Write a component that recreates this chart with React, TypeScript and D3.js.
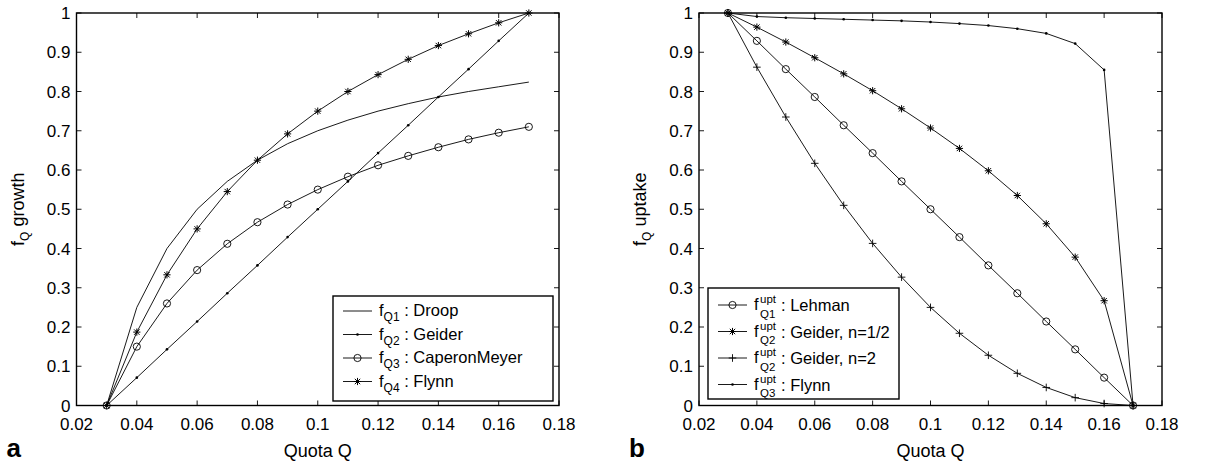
import React from "react";
import * as d3 from "d3";

const Q = [0.03, 0.04, 0.05, 0.06, 0.07, 0.08, 0.09, 0.1, 0.11, 0.12, 0.13, 0.14, 0.15, 0.16, 0.17];

// panel a: growth
const droop = [0, 0.25, 0.4, 0.5, 0.571, 0.625, 0.667, 0.7, 0.727, 0.75, 0.769, 0.786, 0.8, 0.812, 0.824];
const geiderGrowth = [0, 0.071, 0.143, 0.214, 0.286, 0.357, 0.429, 0.5, 0.571, 0.643, 0.714, 0.786, 0.857, 0.929, 1];
const caperonMeyer = [0, 0.15, 0.26, 0.345, 0.412, 0.467, 0.512, 0.55, 0.583, 0.612, 0.636, 0.658, 0.678, 0.695, 0.71];
const flynnGrowth = [0, 0.187, 0.333, 0.45, 0.545, 0.625, 0.692, 0.75, 0.8, 0.843, 0.882, 0.917, 0.947, 0.975, 1];

// panel b: uptake
const lehman = [1, 0.929, 0.857, 0.786, 0.714, 0.643, 0.571, 0.5, 0.429, 0.357, 0.286, 0.214, 0.143, 0.071, 0];
const geiderHalf = [1, 0.964, 0.926, 0.886, 0.845, 0.802, 0.756, 0.707, 0.655, 0.598, 0.535, 0.463, 0.378, 0.267, 0];
const geiderTwo = [1, 0.862, 0.735, 0.617, 0.51, 0.413, 0.327, 0.25, 0.184, 0.128, 0.082, 0.046, 0.02, 0.005, 0];
const flynnUptake = [1, 0.991, 0.988, 0.986, 0.984, 0.982, 0.98, 0.977, 0.973, 0.968, 0.96, 0.948, 0.922, 0.855, 0];

const xTicks = [0.02, 0.04, 0.06, 0.08, 0.1, 0.12, 0.14, 0.16, 0.18];
const yTicks = [0, 0.1, 0.2, 0.3, 0.4, 0.5, 0.6, 0.7, 0.8, 0.9, 1];

const FONT = "'Liberation Sans', Arial, Helvetica, sans-serif";

type Marker = "none" | "dot" | "circle" | "star" | "plus";

function MarkerShape({ type, x, y }: { type: Marker; x: number; y: number }) {
  if (type === "dot") return <circle cx={x} cy={y} r={1.3} fill="#000" />;
  if (type === "circle") return <circle cx={x} cy={y} r={3.6} fill="none" stroke="#000" strokeWidth={0.9} />;
  if (type === "plus") {
    const s = 3.8;
    return (
      <g stroke="#000" strokeWidth={0.9}>
        <line x1={x - s} y1={y} x2={x + s} y2={y} />
        <line x1={x} y1={y - s} x2={x} y2={y + s} />
      </g>
    );
  }
  if (type === "star") {
    const s = 3.6;
    const d = s * 0.75;
    return (
      <g stroke="#000" strokeWidth={1}>
        <line x1={x - s} y1={y} x2={x + s} y2={y} />
        <line x1={x} y1={y - s} x2={x} y2={y + s} />
        <line x1={x - d} y1={y - d} x2={x + d} y2={y + d} />
        <line x1={x - d} y1={y + d} x2={x + d} y2={y - d} />
      </g>
    );
  }
  return null;
}

type Series = { values: number[]; marker: Marker };
type LegendItem = { marker: Marker; sub: string; label: string };
type LegendBox = { x: number; y: number; w: number; h: number; rows: number[] };

const TICK_FS = 17;
const LABEL_FS = 18;
const LEG_FS = 16.5;
const SUB_FS = 11.5;

function Panel({
  x0, x1, y0, y1, series, yLabel, letter, legend, legendBox, supLegend,
}: {
  x0: number; x1: number; y0: number; y1: number; series: Series[]; yLabel: string; letter: string;
  legend: LegendItem[]; legendBox: LegendBox; supLegend: boolean;
}) {
  const x = d3.scaleLinear().domain([0.02, 0.18]).range([x0, x1]);
  const y = d3.scaleLinear().domain([0, 1]).range([y1, y0]);
  const line = d3.line<number>().x((_, i) => x(Q[i])).y((v) => y(v));
  const tl = 5;
  const cx = (x0 + x1) / 2;
  const cy = (y0 + y1) / 2;
  return (
    <g fontFamily={FONT}>
      {series.map((s, si) => (
        <g key={si}>
          <path d={line(s.values) || ""} fill="none" stroke="#000" strokeWidth={0.9} />
          {s.marker !== "none" && s.values.map((v, i) => <MarkerShape key={i} type={s.marker} x={x(Q[i])} y={y(v)} />)}
        </g>
      ))}
      {xTicks.map((t) => (
        <g key={"x" + t}>
          <line x1={x(t)} x2={x(t)} y1={y1} y2={y1 - tl} stroke="#000" strokeWidth={0.9} />
          <line x1={x(t)} x2={x(t)} y1={y0} y2={y0 + tl} stroke="#000" strokeWidth={0.9} />
          <text x={x(t)} y={y1 + 24} textAnchor="middle" fontSize={TICK_FS}>{String(t)}</text>
        </g>
      ))}
      {yTicks.map((t) => (
        <g key={"y" + t}>
          <line x1={x0} x2={x0 + tl} y1={y(t)} y2={y(t)} stroke="#000" strokeWidth={0.9} />
          <line x1={x1} x2={x1 - tl} y1={y(t)} y2={y(t)} stroke="#000" strokeWidth={0.9} />
          <text x={x0 - 6} y={y(t) + 6} textAnchor="end" fontSize={TICK_FS}>{String(t)}</text>
        </g>
      ))}
      <rect x={x0} y={y0} width={x1 - x0} height={y1 - y0} fill="none" stroke="#000" strokeWidth={1.4} />
      <text x={cx} y={y1 + 51} textAnchor="middle" fontSize={LABEL_FS}>Quota Q</text>
      <text transform={`translate(${x0 - 53},${cy}) rotate(-90)`} textAnchor="middle" fontSize={LABEL_FS}>
        <tspan>f</tspan>
        <tspan fontSize={SUB_FS + 0.5} dy={5}>Q</tspan>
        <tspan dy={-5}>{" " + yLabel}</tspan>
      </text>
      <text x={x0 - 70} y={y1 + 51} fontSize={26} fontWeight="bold">{letter}</text>
      <rect x={legendBox.x} y={legendBox.y} width={legendBox.w} height={legendBox.h} fill="#fff" stroke="#000" strokeWidth={1.4} />
      {legend.map((it, i) => {
        const ry = legendBox.rows[i];
        const lx0 = legendBox.x + 10;
        const lx1 = lx0 + 29;
        const tx = lx1 + 7;
        return (
          <g key={i}>
            <line x1={lx0} x2={lx1} y1={ry} y2={ry} stroke="#000" strokeWidth={0.9} />
            <MarkerShape type={it.marker} x={(lx0 + lx1) / 2} y={ry} />
            {supLegend ? (
              <g>
                <text x={tx} y={ry + 5} fontSize={LEG_FS}>f</text>
                <text x={tx + 6} y={ry - 2} fontSize={SUB_FS}>upt</text>
                <text x={tx + 6} y={ry + 12.5} fontSize={SUB_FS}>{it.sub}</text>
                <text x={tx + 27} y={ry + 6} fontSize={LEG_FS}>{": " + it.label}</text>
              </g>
            ) : (
              <text x={tx} y={ry + 5} fontSize={LEG_FS}>
                <tspan>f</tspan>
                <tspan fontSize={SUB_FS + 0.5} dy={5}>{it.sub}</tspan>
                <tspan dy={-5}>{" : " + it.label}</tspan>
              </text>
            )}
          </g>
        );
      })}
    </g>
  );
}

export default function App() {
  return (
    <svg width={1228} height={462} style={{ position: "absolute", left: 0, top: 0, background: "#fff" }}>
      <rect width={1228} height={462} fill="#fff" />
      <Panel
        x0={76.5} x1={559} y0={13} y1={405.5}
        series={[
          { values: droop, marker: "none" },
          { values: geiderGrowth, marker: "dot" },
          { values: caperonMeyer, marker: "circle" },
          { values: flynnGrowth, marker: "star" },
        ]}
        yLabel="growth" letter="a"
        legend={[
          { marker: "none", sub: "Q1", label: "Droop" },
          { marker: "dot", sub: "Q2", label: "Geider" },
          { marker: "circle", sub: "Q3", label: "CaperonMeyer" },
          { marker: "star", sub: "Q4", label: "Flynn" },
        ]}
        legendBox={{ x: 333, y: 296, w: 220, h: 105, rows: [311, 334.5, 358, 381.5] }}
        supLegend={false}
      />
      <Panel
        x0={699} x1={1162} y0={13} y1={405.5}
        series={[
          { values: lehman, marker: "circle" },
          { values: geiderHalf, marker: "star" },
          { values: geiderTwo, marker: "plus" },
          { values: flynnUptake, marker: "dot" },
        ]}
        yLabel="uptake" letter="b"
        legend={[
          { marker: "circle", sub: "Q1", label: "Lehman" },
          { marker: "star", sub: "Q2", label: "Geider, n=1/2" },
          { marker: "plus", sub: "Q2", label: "Geider, n=2" },
          { marker: "dot", sub: "Q3", label: "Flynn" },
        ]}
        legendBox={{ x: 708, y: 288, w: 191, h: 111, rows: [305, 331.5, 358, 384.5] }}
        supLegend={true}
      />
    </svg>
  );
}
